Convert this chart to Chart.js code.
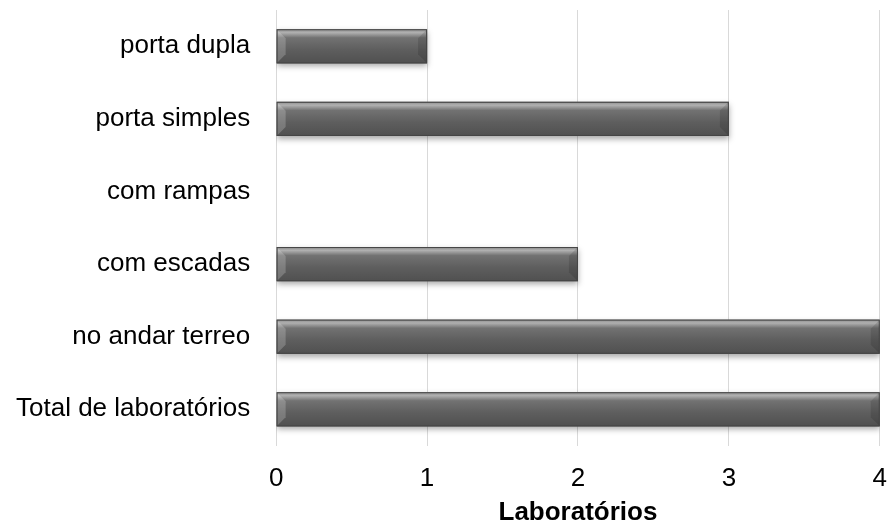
<!DOCTYPE html>
<html lang="pt">
<head>
  <meta charset="UTF-8" />
  <title>Laboratórios</title>
  <script src="https://cdn.jsdelivr.net/npm/chart.js"></script>
  <style>
    html, body { margin: 0; padding: 0; background: #fff; }
    #wrap { width: 889px; height: 523px; }
  </style>
</head>
<body>
  <div id="wrap"><canvas id="chart"></canvas></div>
  <script>
    const categories = ['porta dupla', 'porta simples', 'com rampas', 'com escadas', 'no andar terreo', 'Total de laboratórios'];
    const values = [1, 3, 0, 2, 4, 4];
    const xTicks = [0, 1, 2, 3, 4];

    // glossy bevelled bar look, drawn over each bar element
    const bevelBars = {
      id: 'bevelBars',
      beforeDatasetDraw(chart) {
        const ctx = chart.ctx;
        ctx.save();
        ctx.shadowColor = 'rgba(0,0,0,0.35)';
        ctx.shadowBlur = 6;
        ctx.shadowOffsetY = 3;
      },
      afterDatasetDraw(chart, args) {
        const ctx = chart.ctx;
        ctx.restore();
        args.meta.data.forEach(bar => {
          const p = bar.getProps(['x', 'y', 'base', 'height'], true);
          const left = Math.min(p.x, p.base), right = Math.max(p.x, p.base);
          const w = right - left;
          if (w < 2) return;
          const top = p.y - p.height / 2, h = p.height;
          const g = ctx.createLinearGradient(0, top, 0, top + h);
          g.addColorStop(0, '#8e8e8e');
          g.addColorStop(0.1, '#b0b0b0');
          g.addColorStop(0.25, '#727272');
          g.addColorStop(0.6, '#5e5e5e');
          g.addColorStop(1, '#505050');
          ctx.save();
          ctx.fillStyle = g;
          ctx.fillRect(left, top, w, h);
          // end bevels
          const b = Math.min(9, h / 3);
          ctx.fillStyle = 'rgba(255,255,255,0.2)';
          ctx.beginPath();
          ctx.moveTo(left, top); ctx.lineTo(left + b, top + b); ctx.lineTo(left + b, top + h - b); ctx.lineTo(left, top + h);
          ctx.closePath(); ctx.fill();
          ctx.fillStyle = 'rgba(0,0,0,0.12)';
          ctx.beginPath();
          ctx.moveTo(right, top); ctx.lineTo(right - b, top + b); ctx.lineTo(right - b, top + h - b); ctx.lineTo(right, top + h);
          ctx.closePath(); ctx.fill();
          ctx.strokeStyle = '#454545';
          ctx.lineWidth = 1;
          ctx.strokeRect(left + 0.5, top + 0.5, w - 1, h - 1);
          ctx.restore();
        });
      }
    };

    Chart.defaults.font.family = '"Liberation Sans", Arial, sans-serif';
    Chart.defaults.color = '#000';

    new Chart(document.getElementById('chart'), {
      type: 'bar',
      data: {
        labels: categories,
        datasets: [{
          data: values,
          backgroundColor: '#5e5e5e',
          borderWidth: 0,
          barPercentage: 0.47,
          categoryPercentage: 1
        }]
      },
      options: {
        indexAxis: 'y',
        responsive: true,
        maintainAspectRatio: false,
        animation: false,
        layout: { padding: { left: 16, right: -1, top: 10, bottom: -5 } },
        plugins: { legend: { display: false }, tooltip: { enabled: false } },
        scales: {
          x: {
            min: 0,
            max: 4,
            afterBuildTicks: axis => { axis.ticks = xTicks.map(v => ({ value: v })); },
            grid: { color: '#d9d9d9', drawTicks: true, tickLength: 16, tickColor: 'transparent' },
            border: { display: false },
            ticks: { font: { size: 26 }, padding: 2 },
            title: { display: true, text: 'Laboratórios', font: { size: 26, weight: 'bold' }, padding: { top: 0, bottom: 0 } }
          },
          y: {
            afterFit: scale => { scale.paddingTop = 0; scale.paddingBottom = 0; },
            grid: { drawOnChartArea: false, drawTicks: true, tickLength: 26, tickColor: 'transparent' },
            border: { display: false },
            ticks: { font: { size: 26 }, padding: 0 }
          }
        }
      },
      plugins: [bevelBars]
    });
  </script>
</body>
</html>
